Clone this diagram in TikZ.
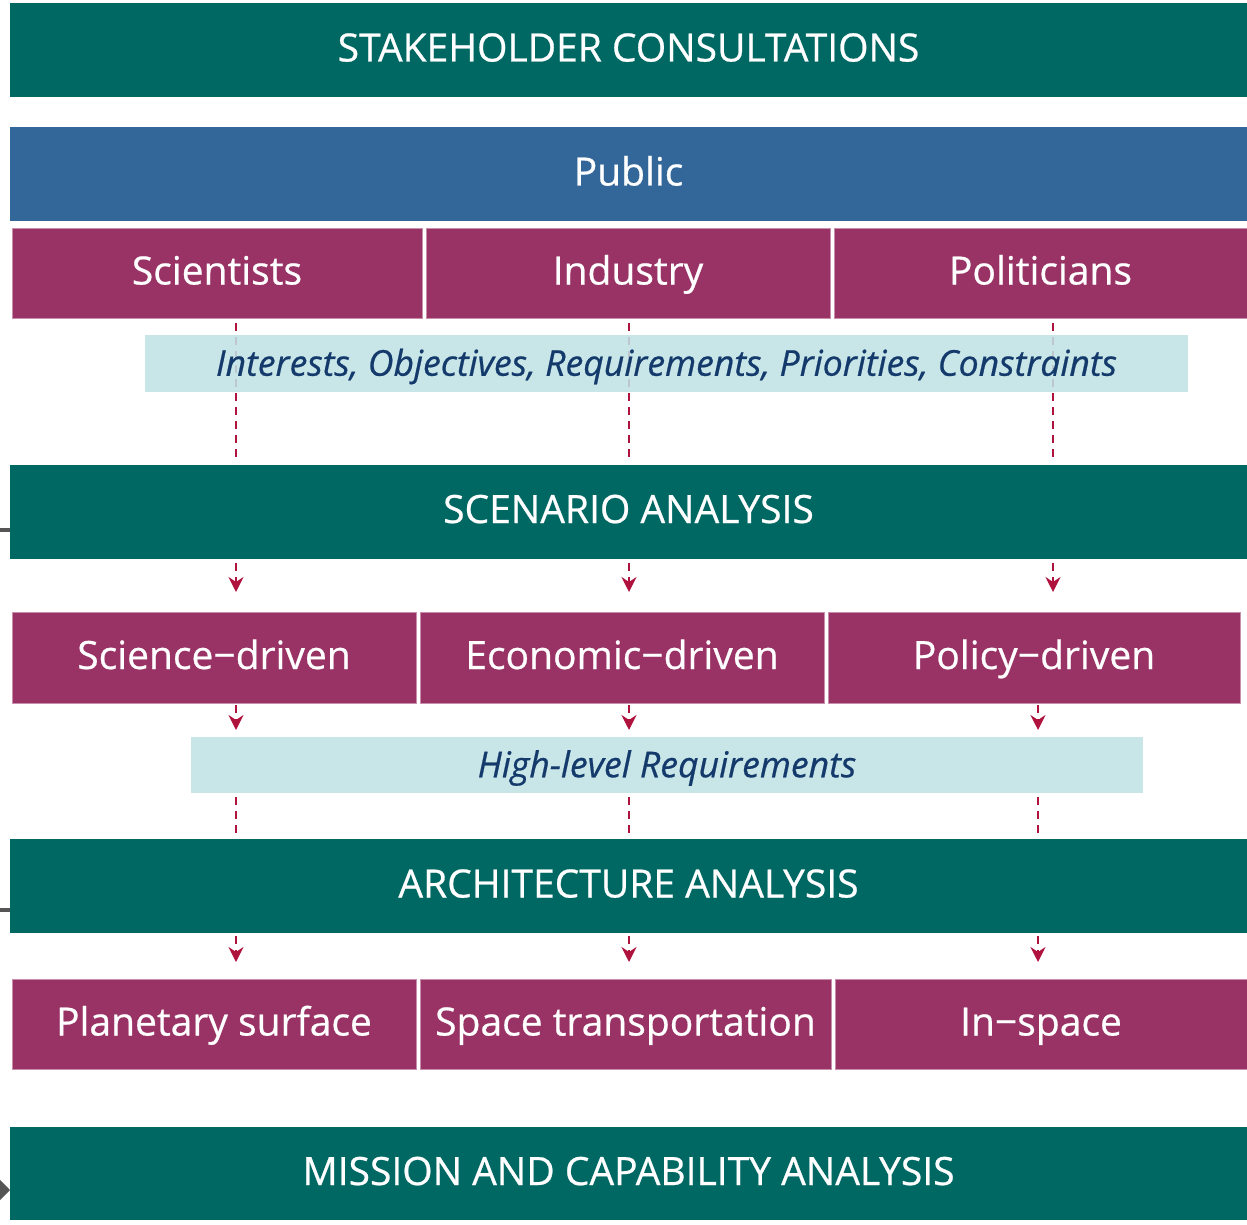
\documentclass[tikz,border=0pt]{standalone}
\usepackage{fontspec}
\setmainfont{Open Sans}[FakeBold=0.6]
\usetikzlibrary{arrows.meta}
\definecolor{tealc}{HTML}{006863}
\definecolor{bluec}{HTML}{336699}
\definecolor{magc}{HTML}{993366}
\definecolor{bandc}{HTML}{C0E1E4}
\definecolor{navyc}{HTML}{133A6B}
\definecolor{redc}{HTML}{B0123E}
\definecolor{grayc}{HTML}{555555}
\tikzset{
  base/.style={inner sep=0pt, outer sep=0pt, text=white, font=\fontsize{39}{44}\selectfont, text height=28pt, text depth=5pt},
  tealbox/.style={base, fill=tealc, minimum width=1237pt, minimum height=94pt},
  bluebox/.style={base, fill=bluec, minimum width=1237pt, minimum height=94pt},
  magbox/.style={base, fill=magc, draw=magc!55!white, line width=1pt, minimum height=90pt},
  band/.style={inner sep=0pt, outer sep=0pt, fill=bandc, fill opacity=0.88, text opacity=1, text=navyc, minimum height=57pt, font=\fontsize{35.6}{40}\selectfont\itshape, text height=25.5pt, text depth=1pt},
  dline/.style={draw=redc, line width=2pt, dash pattern=on 8pt off 6pt},
  darrow/.style={dline, -{Stealth[length=15pt,width=15pt,inset=5pt]}},
  sidemark/.style={draw=grayc, line width=3.5pt}
}
\begin{document}
\begin{tikzpicture}[x=1pt,y=-1pt]
\useasboundingbox (0,0) rectangle (1247,1225);
% column coordinates
\coordinate (c1) at (236,0);
\coordinate (c2) at (629,0);
\coordinate (c3) at (1053,0);
\coordinate (c4) at (1038,0);

\node[tealbox] (stake) at (628.5,50) {STAKEHOLDER CONSULTATIONS};
\node[bluebox] (pub) at (628.5,174) {Public};
\node[magbox, minimum width=410pt] (sci) at (217,273) {Scientists};
\node[magbox, minimum width=404pt] (ind) at (628,273) {Industry};
\node[magbox, minimum width=413pt] (pol) at (1040.5,273) {Politicians};

\node[tealbox] (scen) at (628.5,511.5) {SCENARIO ANALYSIS};

% dashed lines behind band 1
\draw[dline, shorten <=5pt, shorten >=5pt] (sci.south -| c1) -- (scen.north -| c1);
\draw[dline, shorten <=5pt, shorten >=5pt] (ind.south -| c2) -- (scen.north -| c2);
\draw[dline, shorten <=5pt, shorten >=5pt] (pol.south -| c3) -- (scen.north -| c3);
\node[band, minimum width=1043pt] (b1) at (666.5,363.5) {Interests, Objectives, Requirements, Priorities, Constraints};

\node[magbox, minimum width=404pt, minimum height=91pt] (sdr) at (214,657.5) {Science−driven};
\node[magbox, minimum width=404pt, minimum height=91pt] (edr) at (622,657.5) {Economic−driven};
\node[magbox, minimum width=412pt, minimum height=91pt] (pdr) at (1034,657.5) {Policy−driven};

\draw[darrow, shorten <=4pt, shorten >=20pt] (scen.south -| c1) -- (sdr.north -| c1);
\draw[darrow, shorten <=4pt, shorten >=20pt] (scen.south -| c2) -- (edr.north -| c2);
\draw[darrow, shorten <=4pt, shorten >=20pt] (scen.south -| c3) -- (pdr.north -| c3);

\node[band, minimum width=952pt, minimum height=56pt] (b2) at (667,765) {High-level Requirements};

\draw[darrow, shorten <=2pt, shorten >=7pt] (sdr.south -| c1) -- (b2.north -| c1);
\draw[darrow, shorten <=2pt, shorten >=7pt] (edr.south -| c2) -- (b2.north -| c2);
\draw[darrow, shorten <=2pt, shorten >=7pt] (pdr.south -| c4) -- (b2.north -| c4);

\node[tealbox] (arch) at (628.5,886) {ARCHITECTURE ANALYSIS};

\draw[dline, shorten <=4pt, shorten >=2pt] (b2.south -| c1) -- (arch.north -| c1);
\draw[dline, shorten <=4pt, shorten >=2pt] (b2.south -| c2) -- (arch.north -| c2);
\draw[dline, shorten <=4pt, shorten >=2pt] (b2.south -| c4) -- (arch.north -| c4);

\node[magbox, minimum width=404pt] (pla) at (214,1024) {Planetary surface};
\node[magbox, minimum width=411pt] (spt) at (625.5,1024) {Space transportation};
\node[magbox, minimum width=412pt] (ins) at (1041,1024) {In−space};

\draw[darrow, shorten <=3pt, shorten >=17pt] (arch.south -| c1) -- (pla.north -| c1);
\draw[darrow, shorten <=3pt, shorten >=17pt] (arch.south -| c2) -- (spt.north -| c2);
\draw[darrow, shorten <=3pt, shorten >=17pt] (arch.south -| c4) -- (ins.north -| c4);

\node[tealbox, minimum height=93pt] (mis) at (628.5,1173.5) {MISSION AND CAPABILITY ANALYSIS};

% cut-off side connectors
\coordinate (l1) at (0,530);
\coordinate (l2) at (0,910);
\coordinate (l3) at (-2,1190);
\draw[sidemark] (l1) -- (scen.west |- l1);
\draw[sidemark] (l2) -- (arch.west |- l2);
\draw[sidemark, line width=2pt, -{Triangle[length=10pt,width=20pt]}] (l3) -- (mis.west |- l3);
\end{tikzpicture}
\end{document}
